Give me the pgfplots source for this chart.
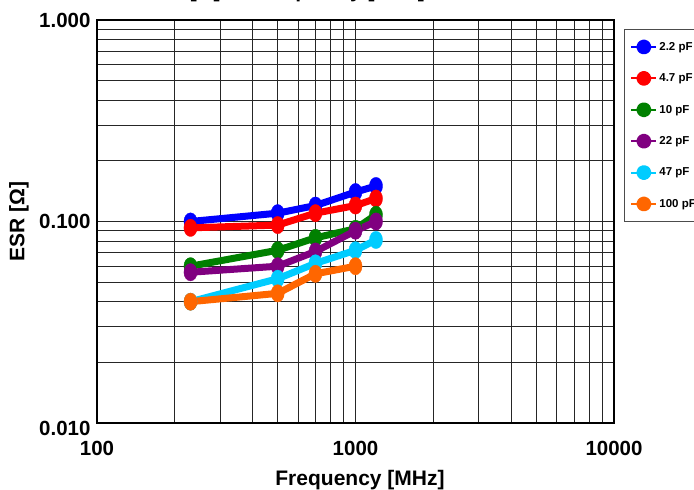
\documentclass[border=0pt]{standalone}
\usepackage{pgfplots}
\pgfplotsset{compat=1.18}
\usepackage{fontspec}
\setmainfont{Liberation Sans}
\definecolor{cCyan}{RGB}{0,204,255}
\definecolor{cOrange}{RGB}{255,102,0}
\definecolor{cGreen}{RGB}{0,128,0}
\definecolor{cPurple}{RGB}{128,0,128}
\begin{document}
\begin{tikzpicture}[x=1pt,y=1pt]
\begin{axis}[
  at={(97pt,67pt)}, anchor=south west,
  scale only axis, width=517pt, height=403pt,
  xmode=log, ymode=log,
  xmin=100, xmax=10000, ymin=0.01, ymax=1,
  xtick={100,1000,10000}, xticklabels={100,1000,10000},
  ytick={0.01,0.1,1}, yticklabels={\raisebox{-5pt}[\height][0pt]{0.010},0.100,1.000},
  grid=both,
  major grid style={black!85, line width=0.8pt},
  minor grid style={black!85, line width=0.8pt},
  major tick length=0pt, minor tick length=0pt,
  axis line style={black, line width=1.4pt},
  ticklabel style={font=\bfseries\fontsize{20.5}{24}\selectfont},
  xticklabel style={yshift=-15pt},
  yticklabel style={xshift=-3pt},
  xlabel={\bfseries Frequency [MHz]},
  ylabel={\bfseries ESR [Ω]},
  label style={font=\bfseries\fontsize{21}{25}\selectfont},
  xlabel style={at={(axis description cs:0.5,0)}, anchor=center, yshift=-57pt, xshift=4.5pt},
  ylabel style={at={(axis description cs:-0.151,0.5)}, anchor=center},
  every axis plot/.append style={line width=7pt, line join=round, line cap=round,
     mark=*, mark size=8.7pt, mark options={solid, line width=0.3pt, xscale=0.76}},
  legend image code/.code={\draw[line width=2pt, line cap=butt] (0pt,0pt) -- (25pt,0pt); \fill (12.5pt,0pt) circle (4pt);},
  legend style={at={(1.0193,0.9775)}, anchor=north west, draw=black!70, line width=0.8pt,
     font=\bfseries\fontsize{11.5}{13}\selectfont, row sep=16.4pt, inner ysep=10pt, inner xsep=6pt},
  legend cell align=left,
]
\addplot[blue] coordinates {(230,0.100) (500,0.110) (700,0.120) (1000,0.140) (1200,0.150)};
\addlegendentry{2.2 pF}
\addplot[red] coordinates {(230,0.093) (500,0.096) (700,0.110) (1000,0.120) (1200,0.130)};
\addlegendentry{4.7 pF}
\addplot[cGreen] coordinates {(230,0.060) (500,0.072) (700,0.083) (1000,0.092) (1200,0.108)};
\addlegendentry{10 pF}
\addplot[cPurple] coordinates {(230,0.056) (500,0.060) (700,0.071) (1000,0.090) (1200,0.100)};
\addlegendentry{22 pF}
\addplot[cCyan] coordinates {(230,0.040) (500,0.052) (700,0.062) (1000,0.072) (1200,0.081)};
\addlegendentry{47 pF}
\addplot[cOrange] coordinates {(230,0.040) (500,0.044) (700,0.055) (1000,0.060)};
\addlegendentry{100 pF}
\end{axis}
\node[anchor=base west, inner sep=0pt, font=\bfseries\fontsize{21}{25}\selectfont] at (140.6,492.6) {ESR [Ω] vs Frequency [MHz]};
\pgfresetboundingbox
\useasboundingbox (0,0) rectangle (694,490);
\end{tikzpicture}
\end{document}
